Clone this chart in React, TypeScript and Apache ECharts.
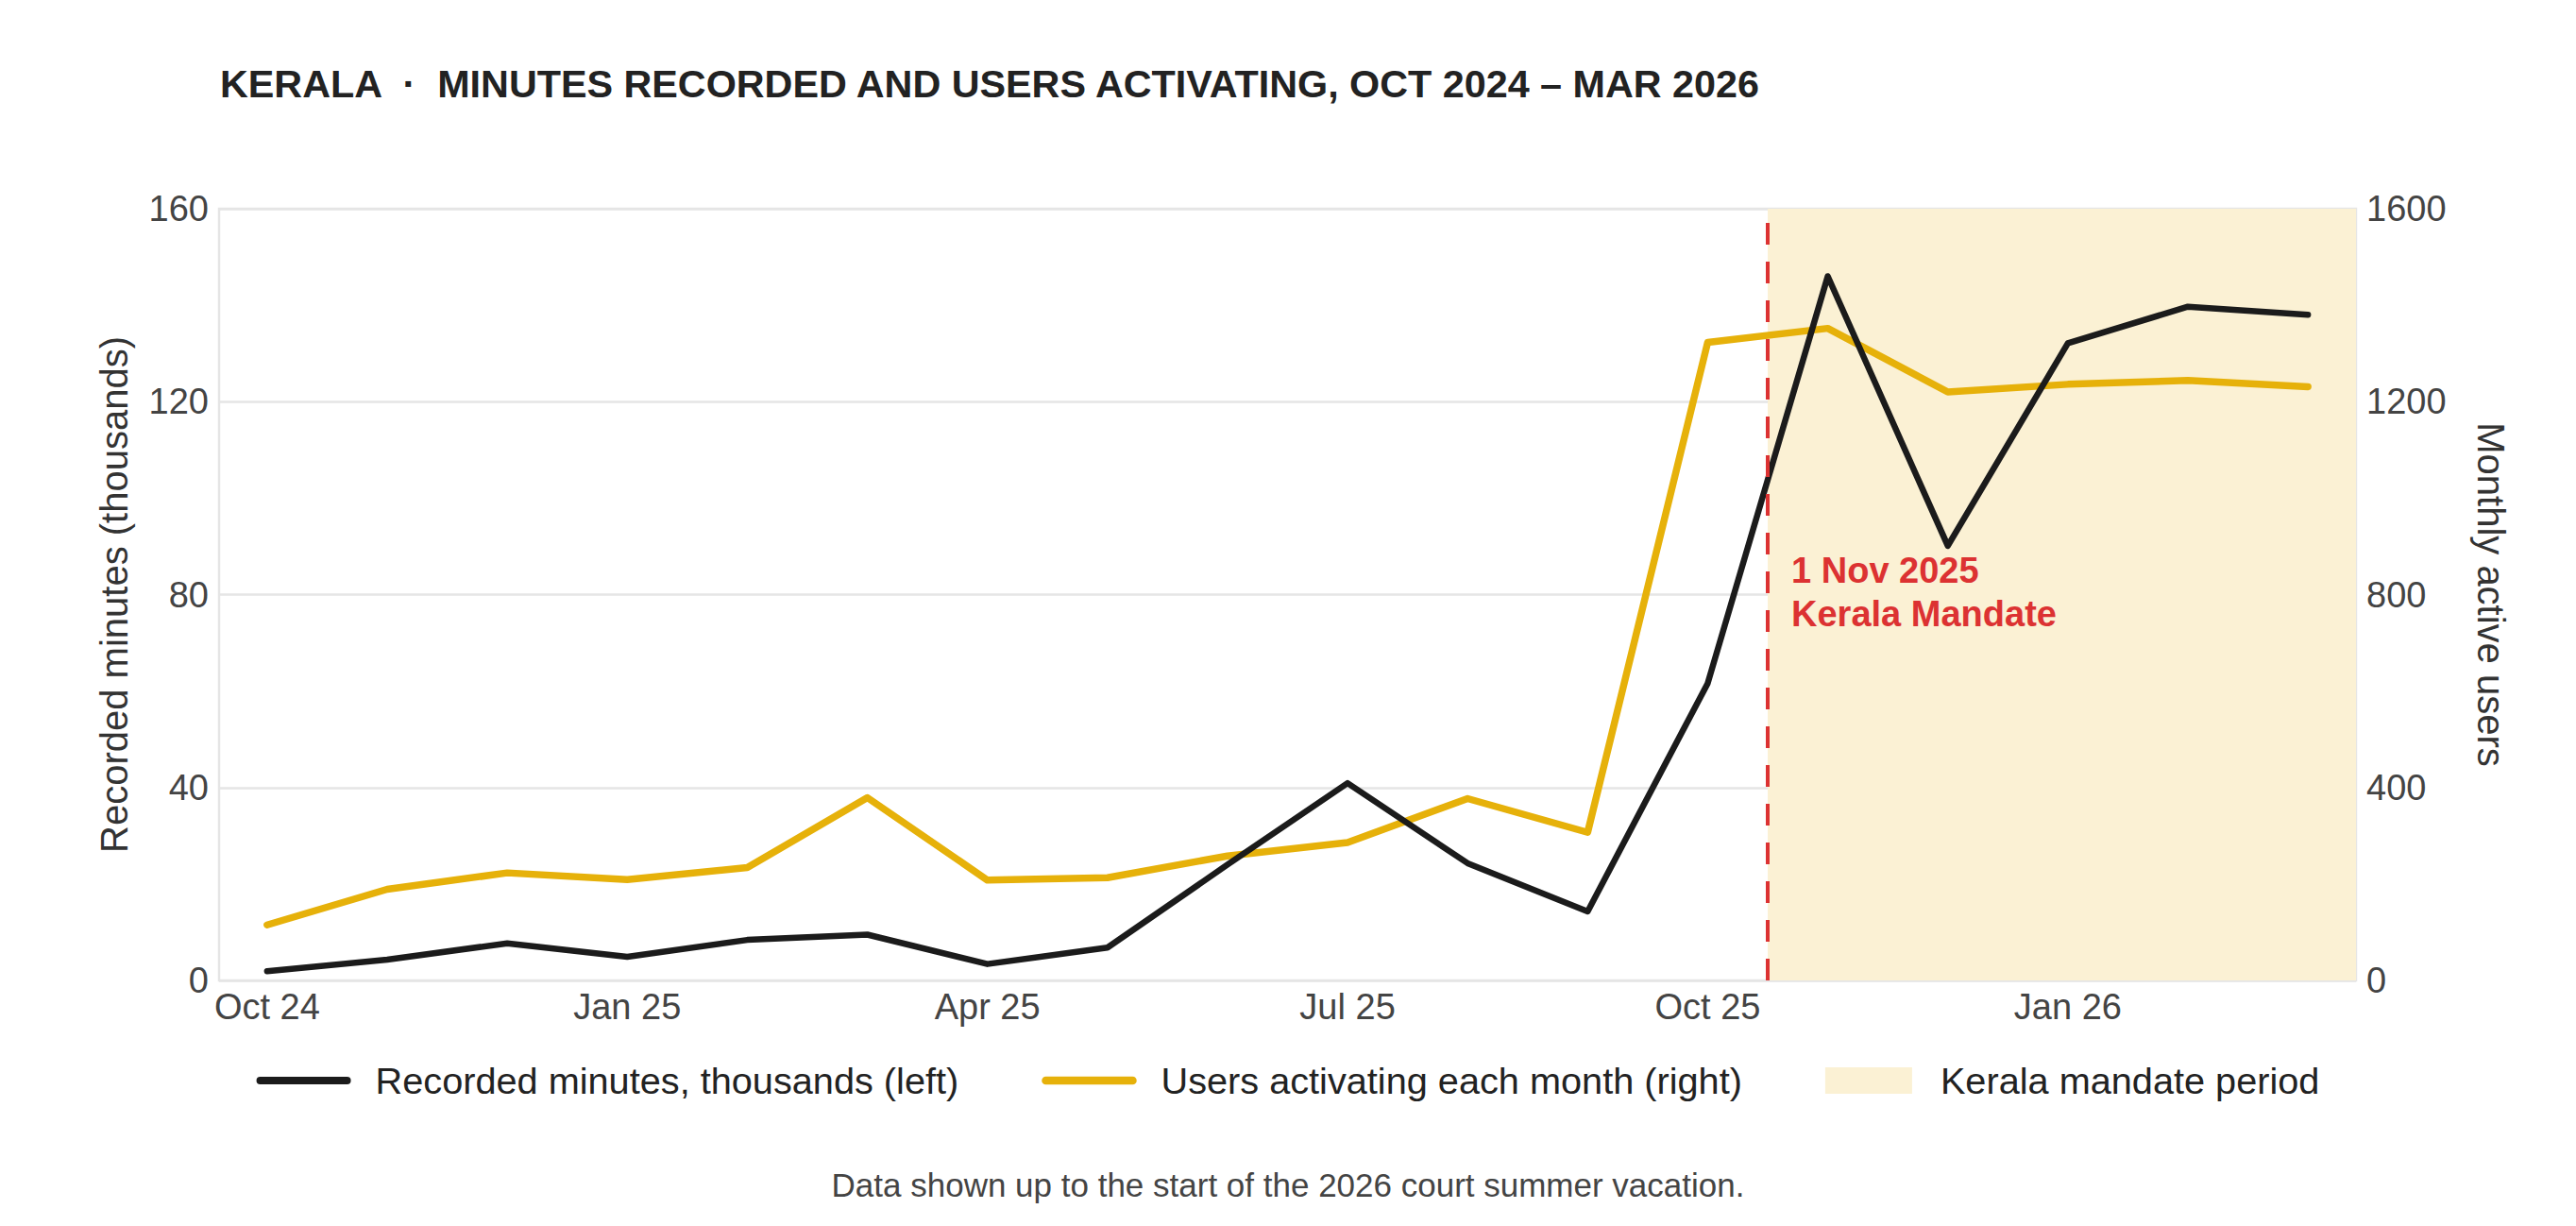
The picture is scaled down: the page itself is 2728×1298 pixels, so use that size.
import React, { useEffect, useRef } from "react";
import * as echarts from "echarts";

const MONTHS = [
  "Oct 24", "Nov 24", "Dec 24", "Jan 25", "Feb 25", "Mar 25", "Apr 25", "May 25", "Jun 25",
  "Jul 25", "Aug 25", "Sep 25", "Oct 25", "Nov 25", "Dec 25", "Jan 26", "Feb 26", "Mar 26",
];
const MINUTES = [1.9, 4.3, 7.7, 4.9, 8.4, 9.5, 3.4, 6.8, 24, 40.9, 24.3, 14.3, 61.6, 146.0, 90.1, 132.1, 139.7, 138.0];
const USERS = [115, 189, 223, 209, 234, 379, 208, 213, 258, 286, 377, 307, 1323, 1352, 1220, 1236, 1244, 1231];
const X_TICKS = [0, 3, 6, 9, 12, 15];
const LEFT_TICKS = { min: 0, max: 160, interval: 40 };
const RIGHT_TICKS = { min: 0, max: 1600, interval: 400 };
const MANDATE_POS = 12.5; // 1 Nov 2025, between Oct 25 and Nov 25
const X_RANGE = { min: -0.4, max: 17.4 };
const ANNOTATION_Y = 80.5;

const TITLE = "KERALA  \u00B7  MINUTES RECORDED AND USERS ACTIVATING, OCT 2024 \u2013 MAR 2026";
const FOOTER = "Data shown up to the start of the 2026 court summer vacation.";
const S_MIN = "Recorded minutes, thousands (left)";
const S_USERS = "Users activating each month (right)";
const S_PERIOD = "Kerala mandate period";
const ANNOTATION = "1 Nov 2025\nKerala Mandate";

const FONT = "'Liberation Sans', Arial, sans-serif";
const BLACK = "#1b1b1b";
const GOLD = "#e6b10a";
const SHADE = "#fbf1d4";
const RED = "#dc3232";
const GRIDC = "#e5e5e5";

export default function App() {
  const ref = useRef<HTMLDivElement>(null);
  useEffect(() => {
    if (!ref.current) return;
    const chart = echarts.init(ref.current, undefined, { renderer: "svg" });
    const minutesData = MINUTES.map((v, i) => [i, v]);
    const usersData = USERS.map((v, i) => [i, v]);
    chart.setOption({
      animation: false,
      backgroundColor: "#ffffff",
      textStyle: { fontFamily: FONT },
      title: [
        {
          text: TITLE,
          left: 228,
          top: 63,
          textStyle: { fontSize: 41.3, fontWeight: "bold", color: "#222222", fontFamily: FONT },
        },
        {
          text: FOOTER,
          left: "center",
          top: 1232,
          textStyle: { fontSize: 35, fontWeight: "normal", color: "#444444", fontFamily: FONT },
        },
      ],
      grid: {
        left: 232,
        right: 233,
        top: 221,
        bottom: 260,
        show: true,
        borderColor: GRIDC,
        borderWidth: 2.5,
        backgroundColor: "transparent",
      },
      legend: {
        left: "center",
        top: 1119,
        itemWidth: 92,
        itemHeight: 28,
        itemGap: 88,
        selectedMode: false,
        textStyle: { fontSize: 39.7, color: "#222222", fontFamily: FONT, padding: [0, 0, 0, 25] },
        data: [
          { name: S_MIN, lineStyle: { width: 8 }, itemStyle: { opacity: 0 } },
          { name: S_USERS, lineStyle: { width: 8.5 }, itemStyle: { opacity: 0 } },
          { name: S_PERIOD, icon: "rect", itemStyle: { color: SHADE, borderWidth: 0 } },
        ],
      },
      xAxis: {
        type: "value",
        min: X_RANGE.min,
        max: X_RANGE.max,
        axisLine: { show: false },
        axisTick: { show: false },
        splitLine: { show: false },
        axisLabel: {
          customValues: X_TICKS,
          formatter: (v: number) => MONTHS[Math.round(v)] ?? "",
          fontSize: 38,
          color: "#444444",
          margin: 9,
          fontFamily: FONT,
        },
      },
      yAxis: [
        {
          type: "value",
          position: "left",
          ...LEFT_TICKS,
          name: "Recorded minutes (thousands)",
          nameLocation: "middle",
          nameGap: 91,
          nameTextStyle: { fontSize: 40, color: "#333333", fontFamily: FONT },
          axisLine: { show: false },
          axisTick: { show: false },
          axisLabel: { fontSize: 38, color: "#444444", margin: 11, fontFamily: FONT },
          splitLine: { show: true, lineStyle: { color: GRIDC, width: 2.5 } },
        },
        {
          type: "value",
          position: "right",
          ...RIGHT_TICKS,
          name: "Monthly active users",
          nameLocation: "middle",
          nameGap: 123,
          nameRotate: -90,
          nameTextStyle: { fontSize: 40, color: "#333333", fontFamily: FONT },
          axisLine: { show: false },
          axisTick: { show: false },
          axisLabel: {
            fontSize: 38,
            color: "#444444",
            margin: 11,
            fontFamily: FONT,
            formatter: (v: number) => String(v),
          },
          splitLine: { show: false },
        },
      ],
      series: [
        {
          name: S_PERIOD,
          type: "line",
          data: [],
          z: 1,
          silent: true,
          color: SHADE,
          itemStyle: { color: SHADE },
          lineStyle: { color: SHADE },
          markArea: {
            silent: true,
            itemStyle: { color: SHADE },
            label: { show: false },
            data: [[{ xAxis: MANDATE_POS }, { xAxis: X_RANGE.max }]],
          },
        },
        {
          name: S_USERS,
          type: "line",
          yAxisIndex: 1,
          data: usersData,
          z: 3,
          symbol: "none",
          color: GOLD,
          lineStyle: { color: GOLD, width: 7.5, cap: "round", join: "round" },
          silent: true,
        },
        {
          name: S_MIN,
          type: "line",
          yAxisIndex: 0,
          data: minutesData,
          z: 4,
          symbol: "none",
          color: BLACK,
          lineStyle: { color: BLACK, width: 6.5, cap: "round", join: "round" },
          silent: true,
        },
        {
          name: "mandate-marker",
          type: "line",
          data: [],
          z: 5,
          silent: true,
          markLine: {
            silent: true,
            symbol: ["none", "none"],
            label: { show: false },
            lineStyle: { color: RED, width: 4, type: [23, 18] },
            data: [{ xAxis: MANDATE_POS }],
          },
          markPoint: {
            silent: true,
            symbol: "circle",
            symbolSize: 0,
            itemStyle: { color: "transparent" },
            label: {
              show: true,
              position: "right",
              distance: 25,
              formatter: () => ANNOTATION,
              fontSize: 38,
              lineHeight: 46,
              fontWeight: "bold",
              color: RED,
              fontFamily: FONT,
            },
            data: [{ coord: [MANDATE_POS, ANNOTATION_Y] }],
          },
        },
      ],
    });
    return () => chart.dispose();
  }, []);
  return (
    <div
      ref={ref}
      style={{ position: "fixed", left: 0, top: 0, width: 2728, height: 1298, background: "#fff" }}
    />
  );
}
